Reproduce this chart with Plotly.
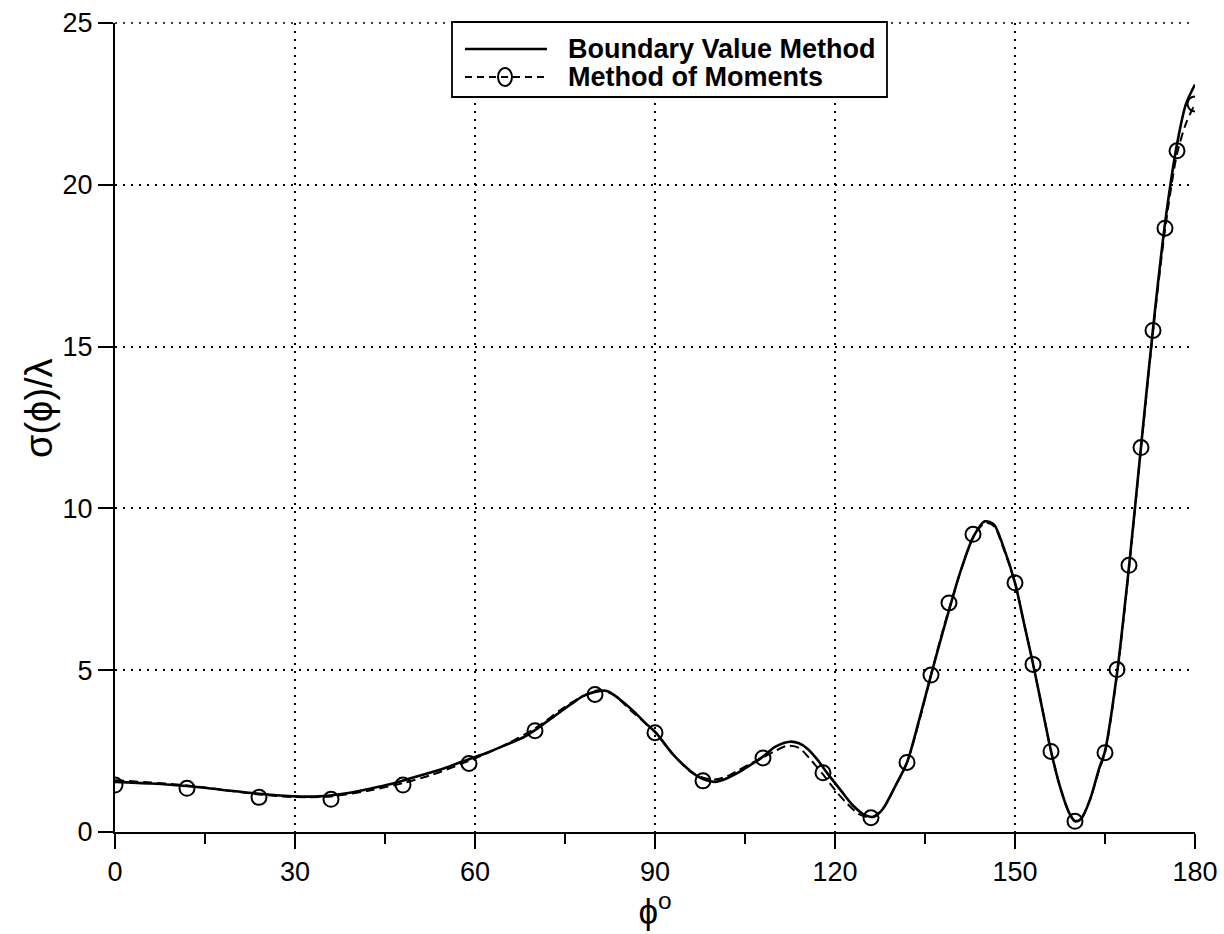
import plotly.graph_objects as go

# Boundary value method: bistatic echo width, solid curve
bvm_phi = [0, 6, 12, 18, 24, 30, 34, 38, 42, 46, 50, 55, 59, 62, 65, 68, 70, 73, 76, 78,
           80, 82, 84, 86.5, 88.5, 90, 93, 95.5, 97.5, 100, 102, 104, 106, 108, 110, 112.5,
           114, 115.5, 117, 119, 121, 123, 125, 126.5, 128, 130, 132, 134, 136, 138, 140, 141,
           143, 145, 146.5, 148, 150, 151.5, 153, 154.5, 156, 157.5, 159, 160, 161, 162.5,
           164, 165, 167, 169, 171, 173, 175, 177, 178.5, 180]
bvm_rcs = [1.55, 1.5, 1.42, 1.3, 1.18, 1.1, 1.1, 1.18, 1.32, 1.48, 1.7, 1.98, 2.25, 2.45,
           2.68, 2.92, 3.15, 3.55, 3.95, 4.2, 4.33, 4.36, 4.12, 3.72, 3.35, 3.1, 2.4, 1.95,
           1.68, 1.55, 1.66, 1.85, 2.08, 2.33, 2.63, 2.79, 2.74, 2.56, 2.25, 1.75, 1.28, 0.82,
           0.52, 0.47, 0.72, 1.4, 2.15, 3.45, 4.85, 6.2, 7.5, 8.1, 9.1, 9.6, 9.5, 8.85, 7.7,
           6.45, 5.2, 3.85, 2.5, 1.4, 0.6, 0.33, 0.4, 1.0, 1.95, 2.5, 4.9, 8.2, 11.9, 15.55,
           18.8, 21.25, 22.5, 23.1]

# Method of moments: dashed curve
mom_phi = [0, 6, 12, 18, 24, 30, 36, 42, 48, 53, 59, 64, 70, 75, 78, 80.5, 83, 86, 90, 93,
           96, 98, 100, 102, 104, 106, 108, 110, 112, 114, 116, 118, 120, 122, 124, 126, 128,
           130, 132, 134, 136, 138, 140, 141, 143, 145, 146.5, 148, 150, 151.5, 153, 154.5,
           156, 157.5, 159, 160, 161, 162.5, 164, 165, 167, 169, 171, 173, 175, 177, 178.5, 180]
mom_rcs = [1.6, 1.53, 1.44, 1.3, 1.16, 1.08, 1.1, 1.27, 1.51, 1.78, 2.2, 2.6, 3.2, 3.87,
           4.2, 4.38, 4.25, 3.75, 3.08, 2.4, 1.85, 1.68, 1.62, 1.72, 1.92, 2.12, 2.3, 2.5,
           2.66, 2.6, 2.22, 1.78, 1.3, 0.88, 0.55, 0.45, 0.72, 1.4, 2.15, 3.4, 4.85, 6.25,
           7.5, 8.1, 9.1, 9.55, 9.45, 8.8, 7.7, 6.45, 5.2, 3.85, 2.5, 1.4, 0.6, 0.35, 0.42,
           1.0, 1.9, 2.45, 4.85, 8.15, 11.85, 15.45, 18.6, 20.95, 21.9, 22.5]

# Method of moments: marked sample points
mom_pts_phi = [0, 12, 24, 36, 48, 59, 70, 80, 90, 98, 108, 118, 126, 132, 136, 139, 143,
               150, 153, 156, 160, 165, 167, 169, 171, 173, 175, 177, 180]
mom_pts_rcs = [1.45, 1.35, 1.07, 1.01, 1.45, 2.12, 3.13, 4.25, 3.07, 1.58, 2.29, 1.83, 0.44,
               2.15, 4.85, 7.08, 9.2, 7.7, 5.18, 2.49, 0.33, 2.45, 5.02, 8.24, 11.88, 15.5,
               18.66, 21.05, 22.5]

x_ticks = [0, 30, 60, 90, 120, 150, 180]
x_minor = [15, 45, 75, 105, 135, 165]
y_ticks = [0, 5, 10, 15, 20, 25]

legend_names = ["Boundary Value Method", "Method of Moments"]

FONT = "Liberation Sans, Arial, sans-serif"
GRID_DASH = "2px,6px"
MOM_DASH = "9px,5px"

# plot area in pixels (used to place the legend box in paper units)
W, H = 1224, 934
ML, MR, MT, MB = 115, 29, 23, 102
PW, PH = W - ML - MR, H - MT - MB


def px_x(p):
    return (p - ML) / PW


def px_y(p):
    return (H - MB - p) / PH


fig = go.Figure()

fig.add_trace(go.Scatter(
    x=bvm_phi, y=bvm_rcs, mode="lines", name=legend_names[0], showlegend=False,
    line=dict(color="black", width=2.6, shape="spline", smoothing=0.8),
))

fig.add_trace(go.Scatter(
    x=mom_phi, y=mom_rcs, mode="lines", name=legend_names[1], showlegend=False,
    line=dict(color="black", width=2, dash=MOM_DASH, shape="spline", smoothing=0.8),
))

fig.add_trace(go.Scatter(
    x=mom_pts_phi, y=mom_pts_rcs, mode="markers", name=legend_names[1], showlegend=False,
    marker=dict(symbol="circle-open", size=15, color="black", line=dict(width=2, color="black")),
))

axis_common = dict(
    showline=True, linecolor="black", linewidth=2, automargin=False,
    ticks="outside", ticklen=15, tickwidth=1.5, tickcolor="black",
    showgrid=True, gridcolor="black", gridwidth=1.5, griddash=GRID_DASH,
    zeroline=False, tickfont=dict(family=FONT, size=27, color="black"),
)

fig.update_xaxes(
    range=[0, 180], tickmode="array", tickvals=x_ticks, ticktext=[str(v) for v in x_ticks],
    minor=dict(tickvals=x_minor, ticks="outside", ticklen=10, tickwidth=1.5,
               tickcolor="black", showgrid=False),
    title=dict(text="ϕ<sup>o</sup>", font=dict(family=FONT, size=35, color="black"), standoff=6),
    **axis_common,
)
fig.update_yaxes(
    range=[0, 25], tickmode="array", tickvals=y_ticks, ticktext=[str(v) for v in y_ticks],
    **axis_common,
)

shapes = [
    # dotted frame line along the top edge
    dict(type="line", xref="paper", yref="paper", x0=0, x1=1, y0=1, y1=1,
         line=dict(color="black", width=1.5, dash=GRID_DASH), layer="below"),
    # legend box
    dict(type="rect", xref="paper", yref="paper",
         x0=px_x(452), x1=px_x(887), y0=px_y(97), y1=px_y(22),
         line=dict(color="black", width=1.8), fillcolor="white", layer="above"),
    # legend sample: solid line
    dict(type="line", xref="paper", yref="paper",
         x0=px_x(465), x1=px_x(547), y0=px_y(49), y1=px_y(49),
         line=dict(color="black", width=2.6), layer="above"),
    # legend sample: dashed line with circle
    dict(type="line", xref="paper", yref="paper",
         x0=px_x(465), x1=px_x(547), y0=px_y(77), y1=px_y(77),
         line=dict(color="black", width=2, dash="7px,5px"), layer="above"),
    dict(type="circle", xref="paper", yref="paper",
         x0=px_x(498), x1=px_x(512), y0=px_y(86), y1=px_y(68),
         line=dict(color="black", width=2), layer="above"),
]

annotations = [
    dict(text=legend_names[0], xref="paper", yref="paper", x=px_x(566), y=px_y(49),
         xanchor="left", yanchor="middle", showarrow=False,
         font=dict(family=FONT, size=27, color="black", weight="bold")),
    dict(text=legend_names[1], xref="paper", yref="paper", x=px_x(566), y=px_y(77),
         xanchor="left", yanchor="middle", showarrow=False,
         font=dict(family=FONT, size=27, color="black", weight="bold")),
    # y-axis title
    dict(text="σ(ϕ)/λ", xref="paper", yref="paper", x=px_x(39), y=px_y(408),
         xanchor="center", yanchor="middle", textangle=-90, showarrow=False,
         font=dict(family=FONT, size=38, color="black")),
]

fig.update_layout(
    width=W, height=H,
    margin=dict(l=ML, r=MR, t=MT, b=MB),
    paper_bgcolor="white", plot_bgcolor="white",
    showlegend=False,
    shapes=shapes,
    annotations=annotations,
)

fig.write_html("out.html")
